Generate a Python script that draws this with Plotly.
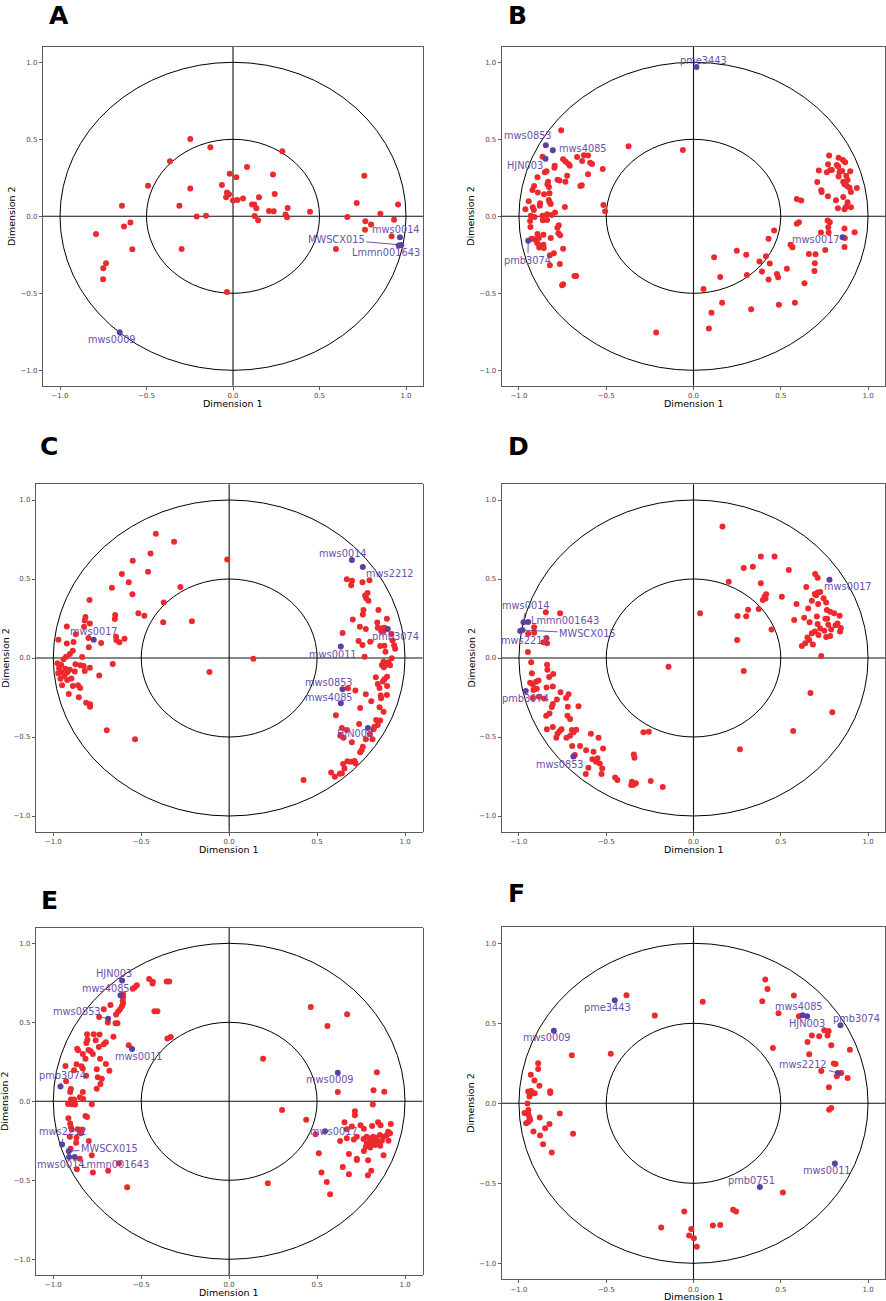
import plotly.graph_objects as go

# ---------------- DATA ----------------
# Panel A
A_red = [(-0.247,0.502),(-0.131,0.448),(0.285,0.422),(-0.364,0.357),(0.081,0.320),(-0.019,0.277),
         (0.019,0.253),(0.231,0.271),(-0.491,0.199),(-0.064,0.203),(-0.247,0.180),(-0.035,0.154),
         (-0.023,0.143),(0.241,0.145),(-0.040,0.123),(0.150,0.123),(0.000,0.102),(0.025,0.106),
         (0.058,0.115),(0.110,0.076),(0.123,0.076),(0.135,0.052),(-0.310,0.069),(-0.642,0.069),
         (0.316,0.054),(0.208,0.035),(0.235,0.032),(0.304,0.011),(0.312,-0.006),(0.125,0.002),
         (0.145,-0.026),(0.445,0.030),(-0.210,-0.002),(-0.156,0.004),(0.759,0.264),(0.715,0.087),
         (0.954,0.076),(0.852,0.017),(0.661,-0.004),(0.931,-0.022),(0.765,-0.032),(0.798,-0.054),
         (0.763,-0.087),(0.917,-0.130),(0.595,-0.212),(-0.593,-0.041),(-0.630,-0.067),(-0.792,-0.115),
         (-0.582,-0.214),(-0.297,-0.212),(-0.734,-0.305),(-0.750,-0.338),(-0.751,-0.409),(-0.035,-0.491)]
A_names = ["mws0014", "MWSCX015", "Lmmn001643", "mws0009"]
A_pur = [(0.965,-0.136),(0.973,-0.186),(0.958,-0.190),(-0.655,-0.753)]

# Panel B
B_red = [(-0.758,0.558),(-0.372,0.455),(-0.061,0.431),(-0.865,0.387),(-0.747,0.370),(-0.732,0.355),
         (-0.716,0.340),(-0.709,0.329),(-0.667,0.385),(-0.638,0.359),(-0.628,0.396),(-0.604,0.394),
         (-0.592,0.348),(-0.581,0.340),(-0.520,0.307),(-0.604,0.273),(-0.724,0.264),(-0.795,0.329),
         (-0.797,0.316),(-0.842,0.292),(-0.852,0.286),(-0.894,0.253),(-0.779,0.238),(-0.768,0.232),
         (-0.734,0.225),(-0.833,0.225),(-0.837,0.208),(-0.828,0.190),(-0.913,0.197),(-0.923,0.171),
         (-0.640,0.201),(-0.648,0.197),(-0.892,0.154),(-0.856,0.143),(-0.825,0.149),(-0.944,0.097),
         (-0.879,0.084),(-0.881,0.069),(-0.829,0.106),(-0.825,0.093),(-0.818,0.080),(-0.737,0.061),
         (-0.921,0.058),(-0.963,0.045),(-0.915,0.041),(-0.793,0.024),(-0.839,0.013),(-0.865,0.004),
         (-0.932,0.004),(-0.911,-0.004),(-0.812,0.009),(-0.516,0.074),(-0.506,0.032),(-0.936,-0.030),
         (-0.863,-0.026),(-0.839,-0.024),(-0.772,-0.058),(-0.780,-0.074),(-0.934,-0.069),(-0.774,-0.110),
         (-0.764,-0.123),(-0.894,-0.115),(-0.860,-0.119),(-0.928,-0.145),(-0.910,-0.149),(-0.886,-0.141),
         (-0.818,-0.141),(-0.896,-0.173),(-0.881,-0.190),(-0.860,-0.184),(-0.884,-0.203),(-0.858,-0.206),
         (-0.747,-0.210),(-0.800,-0.240),(-0.823,-0.253),(-0.823,-0.318),(-0.766,-0.310),(-0.682,-0.387),
         (-0.672,-0.387),(-0.753,-0.448),(-0.747,-0.442),
         (0.777,0.394),(0.831,0.381),(0.856,0.366),(0.869,0.351),(0.771,0.338),(0.821,0.333),
         (0.829,0.323),(0.718,0.297),(0.783,0.301),(0.764,0.286),(0.793,0.301),(0.837,0.288),
         (0.852,0.294),(0.898,0.292),(0.831,0.258),(0.875,0.264),(0.883,0.236),(0.858,0.225),
         (0.709,0.223),(0.865,0.208),(0.879,0.197),(0.894,0.186),(0.936,0.184),(0.732,0.169),
         (0.734,0.158),(0.902,0.158),(0.770,0.130),(0.858,0.126),(0.816,0.104),(0.883,0.091),
         (0.873,0.061),(0.902,0.058),(0.827,0.052),(0.865,0.045),(0.592,0.113),(0.617,0.102),
         (0.768,-0.028),(0.781,-0.039),(0.772,-0.071),(0.730,-0.106),(0.774,-0.106),(0.865,-0.080),
         (0.923,-0.104),(0.867,-0.141),(0.865,-0.199),(0.755,-0.219),(0.592,-0.048),(0.604,-0.039),
         (0.556,-0.184),(0.567,-0.201),(0.462,-0.093),(0.430,-0.145),(0.661,-0.245),(0.699,-0.247),
         (0.695,-0.305),(0.693,-0.355),(0.248,-0.223),(0.302,-0.249),(0.118,-0.266),(0.415,-0.260),
         (0.378,-0.294),(0.437,-0.307),(0.392,-0.359),(0.535,-0.340),(0.306,-0.381),(0.478,-0.374),
         (0.485,-0.396),(0.430,-0.411),(0.153,-0.394),(0.636,-0.435),(0.057,-0.472),(0.164,-0.561),
         (0.581,-0.561),(0.489,-0.574),(0.330,-0.604),(0.103,-0.626),(0.088,-0.729),(-0.214,-0.755)]
B_names = ["pme3443", "mws0853", "mws4085", "HJN003", "pmb3074", "mws0017"]
B_pur = [(0.017,0.970),(-0.846,0.461),(-0.806,0.429),(-0.848,0.374),(-0.947,-0.158),(0.854,-0.136)]

# Panel C
C_red = [(-0.417,0.787),(-0.313,0.736),(-0.447,0.662),(-0.548,0.616),(-0.011,0.624),(-0.461,0.546),
         (-0.610,0.532),(-0.571,0.479),(-0.667,0.445),(-0.277,0.449),(-0.550,0.403),(-0.794,0.367),
         (-0.372,0.352),(-0.516,0.283),(-0.482,0.268),(-0.648,0.272),(-0.650,0.247),(-0.817,0.259),
         (-0.821,0.238),(-0.792,0.219),(-0.825,0.198),(-0.375,0.226),(-0.212,0.232),(-0.923,0.200),
         (-0.872,0.150),(-0.800,0.127),(-0.728,0.095),(-0.643,0.135),(-0.641,0.112),(-0.624,0.099),
         (-0.595,0.122),(-0.971,0.116),(-0.923,0.091),(-0.885,0.101),(-0.798,0.068),(-0.889,0.046),
         (-0.906,0.025),(-0.836,0.006),(-0.927,0.008),(-0.942,-0.008),(-0.976,-0.034),(-0.955,-0.044),
         (-0.874,-0.040),(-0.846,-0.046),(-0.827,-0.051),(-0.792,-0.061),(-0.662,-0.038),(-0.967,-0.065),
         (-0.931,-0.068),(-0.906,-0.074),(-0.954,-0.091),(-0.921,-0.091),(-0.878,-0.086),(-0.821,-0.082),
         (-0.972,-0.097),(-0.936,-0.114),(-0.897,-0.129),(-0.739,-0.110),(-0.959,-0.131),(-0.921,-0.139),
         (-0.950,-0.173),(-0.889,-0.177),(-0.859,-0.173),(-0.847,-0.190),(-0.912,-0.228),(-0.855,-0.249),
         (-0.813,-0.283),(-0.791,-0.293),(-0.791,-0.308),(-0.696,-0.458),(-0.535,-0.515),(-0.112,-0.089),
         (0.138,-0.004),
         (0.669,0.498),(0.699,0.489),(0.694,0.460),(0.758,0.479),(0.798,0.492),(0.787,0.411),
         (0.773,0.395),(0.779,0.378),(0.792,0.363),(0.764,0.304),(0.849,0.304),(0.760,0.276),
         (0.897,0.249),(0.703,0.243),(0.842,0.224),(0.743,0.198),(0.777,0.184),(0.845,0.192),
         (0.868,0.188),(0.883,0.192),(0.864,0.171),(0.878,0.169),(0.645,0.158),(0.923,0.152),
         (0.929,0.110),(0.736,0.108),(0.802,0.103),(0.758,0.082),(0.859,0.076),(0.883,0.078),
         (0.938,0.080),(0.944,0.059),(0.889,0.040),(0.770,0.008),(0.925,-0.002),(0.878,-0.023),
         (0.906,-0.027),(0.868,-0.044),(0.889,-0.044),(0.915,-0.046),(0.880,-0.059),(0.834,-0.122),
         (0.898,-0.118),(0.883,-0.135),(0.874,-0.148),(0.845,-0.165),(0.898,-0.177),(0.855,-0.190),
         (0.675,-0.192),(0.718,-0.205),(0.777,-0.230),(0.862,-0.238),(0.897,-0.234),(0.864,-0.255),
         (0.808,-0.274),(0.745,-0.316),(0.855,-0.312),(0.878,-0.340),(0.607,-0.363),(0.836,-0.392),
         (0.859,-0.395),(0.739,-0.418),(0.845,-0.424),(0.826,-0.435),(0.821,-0.451),(0.641,-0.443),
         (0.669,-0.456),(0.800,-0.481),(0.632,-0.492),(0.650,-0.504),(0.777,-0.515),(0.815,-0.515),
         (0.698,-0.534),(0.760,-0.561),(0.754,-0.582),(0.745,-0.597),(0.673,-0.654),(0.692,-0.656),
         (0.713,-0.652),(0.648,-0.671),(0.719,-0.667),(0.656,-0.700),(0.580,-0.724),(0.601,-0.751),
         (0.629,-0.732),(0.641,-0.730),(0.423,-0.772)]
C_names = ["mws0014", "mws2212", "pmb3074", "mws0011", "mws0853", "mws4085", "HJN003", "mws0017"]
C_pur = [(0.698,0.620),(0.760,0.576),(0.902,0.184),(0.635,0.072),(0.645,-0.198),(0.635,-0.287),
         (0.789,-0.443),(-0.770,0.116)]

# Panel D
D_red = [(-0.846,0.289),(-0.764,0.283),(-0.913,0.194),(-0.947,0.154),(-0.913,0.160),(-0.842,0.127),
         (-0.860,0.099),(-0.839,0.093),(-0.949,0.038),(-0.930,-0.027),(-0.839,-0.042),(-0.837,-0.074),
         (-0.926,-0.097),(-0.804,-0.101),(-0.827,-0.120),(-0.936,-0.156),(-0.921,-0.167),(-0.902,-0.150),
         (-0.888,-0.143),(-0.842,-0.186),(-0.806,-0.181),(-0.917,-0.203),(-0.898,-0.194),(-0.762,-0.217),
         (-0.716,-0.230),(-0.886,-0.245),(-0.922,-0.253),(-0.783,-0.262),(-0.856,-0.257),(-0.730,-0.253),
         (-0.806,-0.291),(-0.812,-0.310),(-0.720,-0.308),(-0.659,-0.306),(-0.825,-0.352),(-0.844,-0.365),
         (-0.722,-0.365),(-0.707,-0.386),(-0.806,-0.437),(-0.840,-0.451),(-0.756,-0.451),(-0.768,-0.464),
         (-0.779,-0.479),(-0.786,-0.504),(-0.697,-0.456),(-0.672,-0.454),(-0.688,-0.470),(-0.707,-0.492),
         (-0.728,-0.504),(-0.588,-0.479),(-0.544,-0.504),(-0.695,-0.557),(-0.650,-0.557),(-0.615,-0.584),
         (-0.573,-0.593),(-0.518,-0.572),(-0.680,-0.614),(-0.579,-0.641),(-0.558,-0.656),(-0.550,-0.635),
         (-0.537,-0.667),(-0.602,-0.694),(-0.523,-0.700),(-0.617,-0.734),(-0.527,-0.734),(-0.449,-0.757),
         (-0.436,-0.772),(-0.342,-0.610),(-0.338,-0.631),(-0.353,-0.783),(-0.344,-0.802),(-0.330,-0.793),
         (-0.357,-0.804),(-0.245,-0.778),(-0.176,-0.816),(-0.287,-0.470),(-0.256,-0.466),(-0.143,-0.055),
         (0.166,0.833),(0.386,0.643),(0.464,0.643),(0.340,0.578),(0.288,0.570),(0.546,0.557),
         (0.202,0.483),(0.386,0.473),(0.697,0.532),(0.711,0.508),(0.646,0.449),(0.506,0.388),
         (0.416,0.403),(0.407,0.388),(0.397,0.367),(0.413,0.376),(0.374,0.310),(0.313,0.306),
         (0.590,0.342),(0.678,0.363),(0.657,0.314),(0.695,0.405),(0.711,0.414),(0.726,0.418),
         (0.703,0.397),(0.745,0.378),(0.760,0.352),(0.714,0.342),(0.764,0.304),(0.783,0.293),
         (0.806,0.283),(0.837,0.268),(0.707,0.262),(0.756,0.249),(0.766,0.249),(0.634,0.255),
         (0.577,0.241),(0.665,0.226),(0.711,0.215),(0.772,0.211),(0.825,0.219),(0.814,0.207),
         (0.844,0.190),(0.726,0.186),(0.750,0.173),(0.789,0.181),(0.840,0.167),(0.695,0.167),
         (0.678,0.156),(0.716,0.146),(0.760,0.133),(0.783,0.139),(0.653,0.129),(0.663,0.114),
         (0.640,0.093),(0.684,0.086),(0.621,0.076),(0.252,0.266),(0.302,0.264),(0.250,0.114),
         (0.447,0.181),(0.038,0.283),(0.732,0.013),(0.288,-0.082),(0.670,-0.222),(0.795,-0.344),
         (0.571,-0.462),(0.266,-0.578)]
D_names = ["mws0017", "mws0014", "Lmmn001643", "MWSCX015", "mws2212", "pmb3074", "mws0853"]
D_pur = [(0.779,0.496),(-0.974,0.226),(-0.947,0.228),(-0.980,0.177),(-0.993,0.171),(-0.961,-0.209),
         (-0.688,-0.624)]

# Panel E
E_red = [(-0.455,0.774),(-0.434,0.757),(-0.436,0.745),(-0.355,0.759),(-0.341,0.759),(-0.525,0.734),
         (-0.536,0.722),(-0.548,0.713),(-0.603,0.677),(-0.603,0.658),(-0.605,0.637),(-0.603,0.620),
         (-0.675,0.610),(-0.713,0.582),(-0.610,0.601),(-0.620,0.582),(-0.631,0.568),(-0.643,0.549),
         (-0.425,0.570),(-0.408,0.570),(-0.739,0.534),(-0.690,0.498),(-0.646,0.494),(-0.635,0.494),
         (-0.808,0.424),(-0.770,0.424),(-0.737,0.422),(-0.658,0.409),(-0.351,0.397),(-0.332,0.407),
         (-0.806,0.390),(-0.759,0.386),(-0.812,0.369),(-0.701,0.373),(-0.713,0.361),(-0.571,0.354),
         (-0.864,0.333),(-0.859,0.323),(-0.800,0.325),(-0.787,0.316),(-0.741,0.344),(-0.832,0.300),
         (-0.775,0.300),(-0.817,0.270),(-0.734,0.270),(-0.868,0.234),(-0.931,0.224),(-0.840,0.222),
         (-0.832,0.207),(-0.701,0.236),(-0.882,0.196),(-0.753,0.203),(-0.681,0.194),(-0.813,0.162),
         (-0.747,0.152),(-0.724,0.143),(-0.927,0.127),(-0.732,0.110),(-0.753,0.080),(-0.900,0.078),
         (-0.904,0.059),(-0.832,0.059),(-0.849,0.025),(-0.830,0.015),(-0.900,0.011),(-0.882,0.011),
         (-0.916,-0.017),(-0.893,-0.019),(-0.876,-0.021),(-0.781,-0.019),(-0.817,-0.093),(-0.808,-0.099),
         (-0.914,-0.108),(-0.904,-0.141),(-0.900,-0.162),(-0.895,-0.179),(-0.861,-0.177),(-0.836,-0.179),
         (-0.842,-0.203),(-0.906,-0.224),(-0.868,-0.230),(-0.798,-0.251),(-0.870,-0.262),(-0.902,-0.300),
         (-0.781,-0.342),(-0.849,-0.363),(-0.866,-0.430),(-0.775,-0.451),(-0.688,-0.439),(-0.627,-0.392),
         (-0.580,-0.544),
         (0.464,0.597),(0.671,0.551),(0.559,0.477),(0.193,0.270),(0.840,0.184),(0.821,0.070),
         (0.882,0.061),(0.618,0.059),(0.817,-0.021),(0.301,-0.055),(0.438,-0.116),(0.715,-0.063),
         (0.715,-0.089),(0.656,-0.133),(0.698,-0.160),(0.747,-0.152),(0.813,-0.156),(0.847,-0.133),
         (0.861,-0.152),(0.919,-0.143),(0.766,-0.173),(0.904,-0.192),(0.915,-0.203),(0.897,-0.213),
         (0.878,-0.224),(0.857,-0.213),(0.834,-0.230),(0.819,-0.224),(0.798,-0.234),(0.781,-0.224),
         (0.764,-0.238),(0.808,-0.249),(0.840,-0.251),(0.868,-0.249),(0.906,-0.249),(0.783,-0.266),
         (0.813,-0.270),(0.859,-0.281),(0.830,-0.276),(0.777,-0.287),(0.802,-0.293),(0.669,-0.177),
         (0.669,-0.234),(0.631,-0.251),(0.726,-0.224),(0.709,-0.241),(0.491,-0.209),(0.510,-0.329),
         (0.681,-0.333),(0.726,-0.363),(0.726,-0.371),(0.766,-0.314),(0.790,-0.373),(0.878,-0.342),
         (0.646,-0.416),(0.808,-0.439),(0.525,-0.451),(0.681,-0.462),(0.789,-0.468),(0.555,-0.511),
         (0.220,-0.519),(0.574,-0.589)]
E_names = ["HJN003", "mws4085", "mws0853", "mws0011", "pmb3074", "mws0009", "mws0017",
           "mws2212", "MWSCX015", "mws0014", "Lmmn001643"]
E_pur = [(-0.609,0.764),(-0.618,0.671),(-0.688,0.523),(-0.552,0.331),(-0.959,0.093),(0.618,0.181),
         (0.545,-0.190),(-0.950,-0.274),(-0.912,-0.316),(-0.910,-0.352),(-0.878,-0.352)]

# Panel F
F_red = [(-0.890,0.250),(-0.890,0.215),(-0.932,0.179),(-0.911,0.142),(-0.883,0.110),(-0.947,0.073),
         (-0.930,0.077),(-0.925,0.063),(-0.910,0.063),(-0.940,0.042),(-0.821,0.075),(-0.821,0.065),
         (-0.951,-0.002),(-0.946,-0.042),(-0.968,-0.060),(-0.946,-0.069),(-0.940,-0.088),(-0.881,-0.088),
         (-0.766,-0.063),(-0.936,-0.104),(-0.959,-0.125),(-0.946,-0.117),(-0.825,-0.129),(-0.850,-0.156),
         (-0.917,-0.177),(-0.879,-0.202),(-0.690,-0.190),(-0.862,-0.256),(-0.812,-0.308),(-0.697,0.300),
         (-0.474,0.310),(-0.384,0.675),(-0.222,0.548),(0.053,0.635),
         (0.411,0.773),(0.424,0.715),(0.575,0.673),(0.394,0.638),(0.487,0.563),(0.604,0.544),
         (0.749,0.456),(0.774,0.452),(0.678,0.423),(0.720,0.419),(0.768,0.423),(0.653,0.383),
         (0.789,0.363),(0.896,0.335),(0.455,0.346),(0.663,0.306),(0.804,0.248),(0.814,0.246),
         (0.732,0.202),(0.846,0.190),(0.821,0.169),(0.883,0.158),(0.776,0.100),(0.789,-0.029),
         (0.777,-0.040),(0.512,-0.558),(0.227,-0.665),(0.244,-0.677),(-0.053,-0.677),(0.111,-0.763),
         (0.153,-0.760),(-0.185,-0.777),(-0.013,-0.785),(-0.025,-0.827),(0.002,-0.844),(0.019,-0.896)]
F_names = ["pme3443", "mws0009", "mws4085", "HJN003", "pmb3074", "mws2212", "mws0011", "pmb0751"]
F_pur = [(-0.451,0.644),(-0.800,0.454),(0.625,0.550),(0.651,0.544),(0.842,0.488),(0.827,0.190),
         (0.810,-0.377),(0.380,-0.523)]

TICKS = [-1.0, -0.5, 0.0, 0.5, 1.0]
RINGS = [1.0, 0.5]

# ---------------- LAYOUT (label placement, panel geometry, style) ----------------
# label text centre (data units) and whether a leader segment is drawn
LABEL_POS = {
    "A": [(0.944,-0.087,0),(0.597,-0.149,1),(0.886,-0.236,0),(-0.697,-0.799,0)],
    "B": [(0.059,1.013,0),(-0.946,0.524,0),(-0.634,0.442,0),(-0.965,0.333,0),(-0.949,-0.284,1),
          (0.701,-0.149,0)],
    "C": [(0.650,0.660,0),(0.916,0.532,0),(0.946,0.139,0),(0.590,0.025,0),(0.567,-0.154,0),
          (0.565,-0.247,0),(0.717,-0.477,0),(-0.768,0.165,0)],
    "D": [(0.883,0.451,0),(-0.959,0.331,1),(-0.734,0.238,0),(-0.607,0.156,1),(-0.965,0.108,0),
          (-0.965,-0.257,0),(-0.764,-0.671,0)],
    "E": [(-0.652,0.806,0),(-0.703,0.717,0),(-0.866,0.570,1),(-0.512,0.283,0),(-0.950,0.162,1),
          (0.574,0.135,0),(0.599,-0.194,0),(-0.942,-0.194,1),(-0.681,-0.300,1),(-0.955,-0.397,0),
          (-0.648,-0.397,0)],
    "F": [(-0.495,0.596,0),(-0.842,0.410,0),(0.606,0.604,0),(0.650,0.496,0),(0.936,0.533,0),
          (0.630,0.244,1),(0.764,-0.423,0),(0.334,-0.483,0)],
}

W, H = 886, 1301
# pixel boxes: left, right, top, bottom ; panel letter position (left, y-centre)
BOXES = {
    "A": (42.7, 423.3, 46.9, 385.7, 47, 16),
    "B": (501.5, 885.5, 46.9, 385.7, 506, 15.5),
    "C": (35.7, 422.6, 484.2, 831.8, 38, 447),
    "D": (501.5, 885.5, 484.2, 831.8, 506, 447),
    "E": (35.7, 422.6, 927.5, 1275.1, 39, 900),
    "F": (501.5, 885.5, 927.3, 1279.3, 506, 893),
}

RED = "#EC2A2E"
PURPLE_PT = "#5E3F9E"
PURPLE_TXT = "#6A4FAA"
FONT = "DejaVu Sans"


def px(x):
    return x / W


def py(y):
    return 1 - y / H


panels = [("A", A_red, A_names, A_pur), ("B", B_red, B_names, B_pur),
          ("C", C_red, C_names, C_pur), ("D", D_red, D_names, D_pur),
          ("E", E_red, E_names, E_pur), ("F", F_red, F_names, F_pur)]

fig = go.Figure()
layout = dict(width=W, height=H, margin=dict(l=0, r=0, t=0, b=0),
              paper_bgcolor="white", plot_bgcolor="white", showlegend=False,
              font=dict(family=FONT), hovermode=False)
shapes, annotations = [], []

for i, (key, red, names, pur) in enumerate(panels):
    n = "" if i == 0 else str(i + 1)
    xr, yr = "x" + n, "y" + n
    l, r, t, b, lx, ly = BOXES[key]
    axis_common = dict(range=[-1.1, 1.1], tickvals=TICKS, tickformat=".1f", ticks="outside",
                       ticklen=3, tickwidth=0.8, tickcolor="#333333", showline=True,
                       linecolor="#333333", linewidth=0.8, mirror=True, showgrid=False,
                       zeroline=False, tickfont=dict(size=7, color="#4d4d4d", family=FONT))
    layout["xaxis" + n] = dict(axis_common, domain=[px(l), px(r)], anchor=yr)
    layout["yaxis" + n] = dict(axis_common, domain=[py(b), py(t)], anchor=xr)

    # reference geometry
    for rad in RINGS:
        shapes.append(dict(type="circle", xref=xr, yref=yr, x0=-rad, x1=rad, y0=-rad, y1=rad,
                           line=dict(color="black", width=1), layer="below"))
    shapes.append(dict(type="line", xref=xr, yref=yr + " domain", x0=0, x1=0, y0=0, y1=1,
                       line=dict(color="#111111", width=1.1), layer="below"))
    shapes.append(dict(type="line", xref=xr + " domain", yref=yr, x0=0, x1=1, y0=0, y1=0,
                       line=dict(color="#111111", width=1.1), layer="below"))

    fig.add_trace(go.Scatter(x=[p[0] for p in red], y=[p[1] for p in red], mode="markers",
                             xaxis=xr, yaxis=yr,
                             marker=dict(color=RED, size=6, line=dict(width=0))))
    fig.add_trace(go.Scatter(x=[p[0] for p in pur], y=[p[1] for p in pur], mode="markers",
                             xaxis=xr, yaxis=yr,
                             marker=dict(color=PURPLE_PT, size=6, line=dict(width=0))))

    for name, (x, y), (tx, ty, seg) in zip(names, pur, LABEL_POS[key]):
        f = dict(family=FONT, size=9.8, color=PURPLE_TXT)
        if seg:
            annotations.append(dict(x=x, y=y, xref=xr, yref=yr, ax=tx, ay=ty, axref=xr, ayref=yr,
                                    text=name, showarrow=True, arrowhead=0, arrowwidth=0.9,
                                    arrowcolor=PURPLE_PT, standoff=0, font=f))
        else:
            annotations.append(dict(x=tx, y=ty, xref=xr, yref=yr, text=name, showarrow=False,
                                    font=f))

    # panel letter
    annotations.append(dict(x=px(lx), y=py(ly), xref="paper", yref="paper", text="<b>%s</b>" % key,
                            showarrow=False, xanchor="left", yanchor="middle",
                            font=dict(family=FONT, size=25, color="black")))
    # axis titles
    annotations.append(dict(x=px((l + r) / 2), y=py(b + 17.5), xref="paper", yref="paper",
                            text="Dimension 1", showarrow=False, xanchor="center", yanchor="middle",
                            font=dict(family=FONT, size=9.5, color="black")))
    annotations.append(dict(x=px(l - 31), y=py((t + b) / 2), xref="paper", yref="paper",
                            text="Dimension 2", showarrow=False, textangle=-90,
                            xanchor="center", yanchor="middle",
                            font=dict(family=FONT, size=9.5, color="black")))

layout["shapes"] = shapes
layout["annotations"] = annotations
fig.update_layout(**layout)
fig.write_html("out.html", config={"displayModeBar": False, "staticPlot": True},
               post_script="document.body.style.margin='0';document.body.style.overflow='hidden';")
